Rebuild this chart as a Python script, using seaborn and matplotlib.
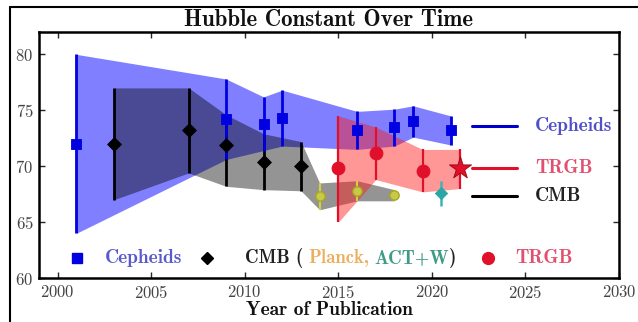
import matplotlib
matplotlib.use("Agg")
import matplotlib.pyplot as plt
import seaborn as sns
import pandas as pd
from matplotlib.lines import Line2D

# ---------------- data ----------------
ceph_year = [2001, 2009, 2011, 2012, 2016, 2018, 2019, 2021]
ceph_h0 = [72.0, 74.2, 73.8, 74.3, 73.2, 73.5, 74.0, 73.2]
ceph_lo = [64.0, 70.6, 71.4, 71.8, 71.5, 71.8, 72.6, 71.9]
ceph_hi = [80.0, 77.8, 76.2, 76.8, 74.9, 75.1, 75.4, 74.5]

cmb_year = [2003, 2007, 2009, 2011, 2013]
cmb_h0 = [72.0, 73.2, 71.9, 70.4, 70.0]
cmb_lo = [67.0, 69.4, 68.2, 67.9, 67.8]
cmb_hi = [77.0, 77.0, 74.6, 72.9, 72.2]

planck_year = [2014, 2016, 2018]
planck_h0 = [67.3, 67.8, 67.4]
planck_lo = [66.1, 66.9, 66.9]
planck_hi = [68.5, 68.7, 67.9]

act_year = [2020.5]
act_h0 = [67.6]
act_lo = [66.4]
act_hi = [68.7]

trgb_year = [2015, 2017, 2019.5]
trgb_h0 = [69.8, 71.2, 69.6]
trgb_lo = [65.0, 68.8, 67.7]
trgb_hi = [74.5, 73.5, 71.5]

star_year = [2021.5]
star_h0 = [69.8]
star_lo = [68.0]
star_hi = [71.5]

x_ticks = [2000, 2005, 2010, 2015, 2020, 2025, 2030]
y_ticks = [60, 65, 70, 75, 80]

title = "Hubble Constant Over Time"
xlabel = "Year of Publication"

# ---------------- style ----------------
sns.set_theme(style="ticks")
plt.rcParams["font.family"] = ["cmr10", "DejaVu Serif"]
plt.rcParams["axes.unicode_minus"] = False
plt.rcParams["axes.formatter.use_mathtext"] = True

BLUE = "#0000e0"
BLACK = "#000000"
RED = "#e0102a"
TEAL = "#2aa6a6"

fig = plt.figure(figsize=(6.38, 3.22), dpi=100)
fig.patch.set_facecolor("white")
ax = fig.add_axes([39 / 638, 1 - 278 / 322, 580 / 638, 246 / 322])

def frame(years, h0, lo, hi):
    return pd.DataFrame({"year": years, "h0": h0, "lo": lo, "hi": hi})

ceph = frame(ceph_year, ceph_h0, ceph_lo, ceph_hi)
cmb = frame(cmb_year, cmb_h0, cmb_lo, cmb_hi)
planck = frame(planck_year, planck_h0, planck_lo, planck_hi)
act = frame(act_year, act_h0, act_lo, act_hi)
trgb = frame(trgb_year, trgb_h0, trgb_lo, trgb_hi)
star = frame(star_year, star_h0, star_lo, star_hi)
cmb_band = pd.concat([cmb, planck], ignore_index=True)
trgb_band = pd.concat([trgb, star], ignore_index=True)

# bands
ax.fill_between(ceph.year, ceph.lo, ceph.hi, color="#0000ff", alpha=0.5, lw=0, zorder=1)
ax.fill_between(cmb_band.year, cmb_band.lo, cmb_band.hi, color="black", alpha=0.42, lw=0, zorder=2)
ax.fill_between(trgb_band.year, trgb_band.lo, trgb_band.hi, color="#ff1a1a", alpha=0.45, lw=0, zorder=3)

def bars(df, color, lw, z):
    ax.errorbar(df.year, df.h0, yerr=[df.h0 - df.lo, df.hi - df.h0], fmt="none",
                ecolor=color, elinewidth=lw, capsize=0, zorder=z)

bars(cmb, BLACK, 2.0, 4)
bars(ceph, BLUE, 2.0, 5)
bars(planck, "#d2d23c", 1.5, 4)
bars(act, "#40b4b4", 1.8, 4)
bars(trgb, RED, 1.6, 6)
bars(star, RED, 1.6, 6)

sns.scatterplot(data=ceph, x="year", y="h0", marker="s", s=60, color=BLUE, edgecolor=BLUE, ax=ax, zorder=8)
sns.scatterplot(data=cmb, x="year", y="h0", marker="D", s=50, color=BLACK, edgecolor=BLACK, ax=ax, zorder=8)
sns.scatterplot(data=planck, x="year", y="h0", marker="o", s=45, color="#c8c84a", edgecolor="#a8a820", linewidth=1, ax=ax, zorder=8)
sns.scatterplot(data=act, x="year", y="h0", marker="D", s=40, color=TEAL, edgecolor=TEAL, ax=ax, zorder=8)
sns.scatterplot(data=trgb, x="year", y="h0", marker="o", s=85, color=RED, edgecolor=RED, ax=ax, zorder=8)
sns.scatterplot(data=star, x="year", y="h0", marker="*", s=280, color=RED, edgecolor="#a00010", linewidth=0.6, ax=ax, zorder=8)

# axes
ax.set_xlim(1999, 2030)
ax.set_ylim(60, 82)
ax.set_xticks(x_ticks)
ax.set_yticks(y_ticks)
ax.tick_params(direction="in", top=True, right=True, length=4, width=1,
               labelsize=12, labelcolor="#444444", pad=4)
for s in ax.spines.values():
    s.set_linewidth(1.8)
    s.set_color("black")
ax.set_xlabel(xlabel, family="cmb10", fontsize=14, labelpad=0, color="#111111")
ax.set_ylabel("")
ax.set_title(title, family="cmb10", fontsize=16.5, pad=4, color="#111111")

# right-side labels
tr = ax.transAxes
right_items = [("Cepheids", "#0000cc", "#5050c8", 0.618),
               ("TRGB", RED, "#e05070", 0.447),
               ("CMB", BLACK, "#222222", 0.333)]
for lab, lcol, tcol, yy in right_items:
    ax.add_line(Line2D([0.747, 0.824], [yy, yy], transform=tr, color=lcol, lw=2.2, clip_on=False))
    ax.text(0.855, yy, lab, transform=tr, family="cmb10", fontsize=14, color=tcol,
            va="center", ha="left")

# bottom row legend
yb = 0.081
ax.plot([0.0655], [yb], transform=tr, marker="s", ms=6.5, color=BLUE, ls="none", clip_on=False, zorder=9)
ax.text(0.114, yb, "Cepheids", transform=tr, family="cmb10", fontsize=14, color="#5a5acc", va="center", ha="left")
ax.plot([0.290], [yb], transform=tr, marker="D", ms=6.5, color=BLACK, ls="none", clip_on=False, zorder=9)
t = ax.text(0.355, yb, "CMB (", transform=tr, family="cmb10", fontsize=13.5, color="#222222", va="center", ha="left")
for part, col, gap in [("Planck,", "#eab060", 3.5), ("ACT+W", "#3f9a86", 4), (")", "#222222", 0)]:
    t = ax.annotate(part, xy=(1, 0.5), xycoords=t, xytext=(gap, 0), textcoords="offset points",
                    va="center", ha="left", family="cmb10", fontsize=13.5, color=col)
ax.plot([0.774], [yb], transform=tr, marker="o", ms=8.5, color=RED, ls="none", clip_on=False, zorder=9)
ax.text(0.821, yb, "TRGB", transform=tr, family="cmb10", fontsize=14, color="#e05070", va="center", ha="left")

# outer frame lines (top and left)
fig.add_artist(Line2D([10 / 638, 1.0], [1 - 7 / 322, 1 - 7 / 322], transform=fig.transFigure, color="black", lw=1.5))
fig.add_artist(Line2D([10 / 638, 10 / 638], [0, 1 - 7 / 322], transform=fig.transFigure, color="black", lw=1.5))

fig.savefig("out.png", dpi=100, facecolor="white")
